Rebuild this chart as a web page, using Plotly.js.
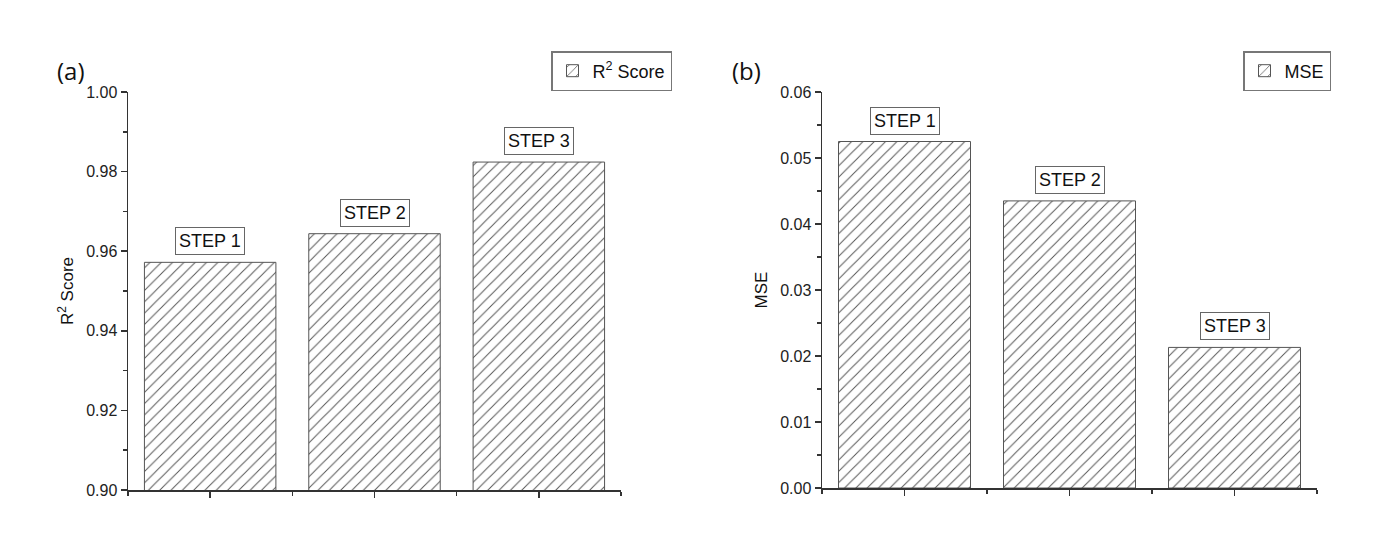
<!DOCTYPE html>
<html>
<head>
<meta charset="utf-8">
<script src="https://cdn.plot.ly/plotly-3.0.1.min.js"></script>
<style>html,body{margin:0;padding:0;background:#fff;}#chart{width:1390px;height:539px;}</style>
</head>
<body>
<div id="chart"></div>
<script>
const categories = ["STEP 1", "STEP 2", "STEP 3"];
const r2Values = [0.9572, 0.9644, 0.9824];
const mseValues = [0.0525, 0.0435, 0.0213];
const r2Ticks = [0.90, 0.92, 0.94, 0.96, 0.98, 1.00];
const mseTicks = [0.00, 0.01, 0.02, 0.03, 0.04, 0.05, 0.06];

const xpos = categories.map((c, i) => i + 1);

const pattern = {shape: "/", fgcolor: "#555555", bgcolor: "#ffffff", size: 8, solidity: 0.12};
const lineStyle = {color: "#555555", width: 1};

const traces = [
  {type: "bar", x: xpos, y: r2Values, name: "R<sup>2</sup> Score", width: 0.8,
   marker: {color: "#ffffff", pattern: pattern, line: lineStyle},
   xaxis: "x", yaxis: "y", legend: "legend", hoverinfo: "y"},
  {type: "bar", x: xpos, y: mseValues, name: "MSE", width: 0.8,
   marker: {color: "#ffffff", pattern: pattern, line: lineStyle},
   xaxis: "x2", yaxis: "y2", legend: "legend2", hoverinfo: "y"}
];

const axisCommon = {
  showline: true, linecolor: "#333333", linewidth: 1.5, mirror: false,
  showgrid: false, zeroline: false, ticks: "outside", tickcolor: "#333333",
  tickwidth: 1.5, ticklen: 6,
  tickfont: {family: "Liberation Sans, Arial, sans-serif", size: 16, color: "#222222"}
};

function xAxis(domain, anchor) {
  return Object.assign({}, axisCommon, {
    domain: domain, anchor: anchor, range: [0.5, 3.5],
    tickmode: "array", tickvals: xpos, showticklabels: false,
    minor: {tickmode: "array", tickvals: [0.5, 1.5, 2.5, 3.5], ticks: "outside", ticklen: 4, tickcolor: "#333333", tickwidth: 1.5}
  });
}
function yAxis(domain, anchor, range, ticks, minorStep, title, standoff) {
  return Object.assign({}, axisCommon, {
    domain: domain, anchor: anchor, range: range,
    tickmode: "array", tickvals: ticks, ticktext: ticks.map(v => v.toFixed(2)),
    minor: {dtick: minorStep, tick0: range[0], ticks: "outside", ticklen: 4, tickcolor: "#333333", tickwidth: 1.5},
    title: {text: title, standoff: standoff, font: {family: "Liberation Sans, Arial, sans-serif", size: 17, color: "#111111"}}
  });
}

const labelFont = {family: "Liberation Sans, Arial, sans-serif", size: 18, color: "#111111"};
const annotations = [];
categories.forEach((c, i) => {
  annotations.push({xref: "x", yref: "y", x: xpos[i], y: r2Values[i], text: c, showarrow: false,
    yanchor: "bottom", yshift: 7, font: labelFont, bordercolor: "#666666", borderwidth: 1, borderpad: 3, bgcolor: "#ffffff"});
  annotations.push({xref: "x2", yref: "y2", x: xpos[i], y: mseValues[i], text: c, showarrow: false,
    yanchor: "bottom", yshift: 7, font: labelFont, bordercolor: "#666666", borderwidth: 1, borderpad: 3, bgcolor: "#ffffff"});
});
annotations.push({xref: "paper", yref: "paper", x: 55/1390, y: 1 - 52/539, xanchor: "left", yanchor: "top",
  text: "(a)", showarrow: false, font: {family: "Open Sans, sans-serif", size: 24, color: "#111111"}});
annotations.push({xref: "paper", yref: "paper", x: 730/1390, y: 1 - 52/539, xanchor: "left", yanchor: "top",
  text: "(b)", showarrow: false, font: {family: "Open Sans, sans-serif", size: 24, color: "#111111"}});

const legendCommon = {
  bgcolor: "#ffffff", bordercolor: "#777777", borderwidth: 1.5,
  font: {family: "Liberation Sans, Arial, sans-serif", size: 18, color: "#111111"},
  xanchor: "right", yanchor: "top", itemclick: false, itemdoubleclick: false,
  tracegroupgap: 0
};

const layout = {
  width: 1390, height: 539,
  margin: {l: 0, r: 0, t: 0, b: 0},
  paper_bgcolor: "#ffffff", plot_bgcolor: "#ffffff",
  showlegend: true,
  legend: Object.assign({}, legendCommon, {x: 672/1390, y: 1 - 51/539}),
  legend2: Object.assign({}, legendCommon, {x: 1331/1390, y: 1 - 51/539}),
  xaxis: xAxis([128/1390, 621/1390], "y"),
  yaxis: yAxis([1 - 490/539, 1 - 92/539], "x", [0.90, 1.00], r2Ticks, 0.01, "R<sup>2</sup> Score", 8),
  xaxis2: xAxis([822/1390, 1317/1390], "y2"),
  yaxis2: yAxis([1 - 488/539, 1 - 92/539], "x2", [0, 0.06], mseTicks, 0.005, "MSE", 8),
  annotations: annotations,
  bargap: 0.2
};

Plotly.newPlot("chart", traces, layout, {displayModeBar: false, staticPlot: true});
</script>
</body>
</html>
